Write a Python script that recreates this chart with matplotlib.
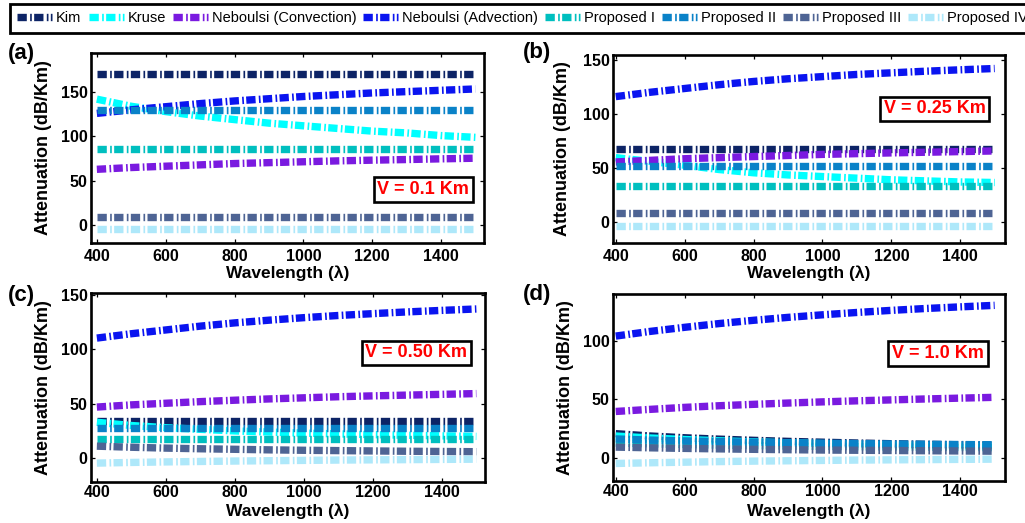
import numpy as np
import matplotlib
matplotlib.use("Agg")
import matplotlib.pyplot as plt

plt.rcParams['font.family'] = ['Liberation Sans', 'DejaVu Sans']
plt.rcParams['lines.scale_dashes'] = False

wavelength = [400, 500, 600, 700, 800, 900, 1000, 1100, 1200, 1300, 1400, 1500]

names = ["Kim", "Kruse", "Neboulsi (Convection)", "Neboulsi (Advection)",
         "Proposed I", "Proposed II", "Proposed III", "Proposed IV"]
colors = ["#0d2466", "#00ffff", "#7a1ae0", "#0a14f0",
          "#00bfbf", "#0a82c8", "#4e6494", "#aee8fa"]

# V = 0.1 km
kim_a = [170, 170, 170, 170, 170, 170, 170, 170, 170, 170, 170, 170]
kruse_a = [142, 134, 128, 123, 119, 115, 112, 109, 106, 104, 101, 99]
conv_a = [63, 65, 66.5, 68, 69.5, 70.5, 71.5, 72.5, 73.3, 74, 74.8, 75.5]
adv_a = [126, 130, 133.5, 137, 140, 142.5, 145, 147, 149, 150.5, 152, 153.5]
p1_a = [86, 86, 86, 86, 86, 86, 86, 86, 86, 86, 86, 86]
p2_a = [130, 130, 130, 130, 130, 130, 130, 130, 130, 130, 130, 130]
p3_a = [9.5, 9.5, 9.5, 9.5, 9.5, 9.5, 9.5, 9.5, 9.5, 9.5, 9.5, 9.5]
p4_a = [-4, -4, -4, -4, -4, -4, -4, -4, -4, -4, -4, -4]

# V = 0.25 km
kim_b = [68, 68, 68, 68, 68, 68, 68, 68, 68, 68, 68, 68]
kruse_b = [60, 56.5, 53, 49, 46, 44, 42.5, 41, 39.5, 38.5, 37.5, 37]
conv_b = [56, 57.5, 59, 60, 61, 62, 63, 63.7, 64.4, 65, 65.6, 66.2]
adv_b = [116.5, 120.5, 124, 127.5, 130.5, 133, 135, 137, 138.5, 140, 141.3, 142.5]
p1_b = [34, 34, 34, 34, 34, 34, 34, 34, 34, 34, 34, 34]
p2_b = [52, 52, 52, 52, 52, 52, 52, 52, 52, 52, 52, 52]
p3_b = [9, 9, 9, 9, 9, 9, 9, 9, 9, 9, 9, 9]
p4_b = [-3, -3, -3, -3, -3, -3, -3, -3, -3, -3, -3, -3]

# V = 0.50 km
kim_c = [34, 34, 34, 34, 34, 34, 34, 34, 34, 34, 34, 34]
kruse_c = [33, 30, 28, 26.5, 25, 24, 23, 22.3, 21.6, 21, 20.5, 20]
conv_c = [47, 49, 50.5, 52, 53.3, 54.5, 55.5, 56.5, 57.3, 58, 58.7, 59.4]
adv_c = [110.5, 114.5, 118, 121.5, 124.5, 127, 129.3, 131.3, 133, 134.6, 136, 137.3]
p1_c = [18, 18, 18, 18, 18, 18, 18, 18, 18, 18, 18, 18]
p2_c = [28, 28, 28, 28, 28, 28, 28, 28, 28, 28, 28, 28]
p3_c = [11, 10, 9.2, 8.6, 8.1, 7.6, 7.2, 6.9, 6.6, 6.3, 6.1, 5.9]
p4_c = [-4.6, -4, -3.5, -3.1, -2.7, -2.4, -2.1, -1.8, -1.6, -1.4, -1.2, -1.0]

# V = 1.0 km
kim_d = [20.5, 18.5, 17, 15.8, 14.8, 13.9, 13.2, 12.5, 11.9, 11.4, 11, 10.6]
kruse_d = [18.5, 16.8, 15.5, 14.4, 13.5, 12.7, 12, 11.4, 10.9, 10.4, 10, 9.6]
conv_d = [39.5, 41.3, 43, 44.4, 45.6, 46.7, 47.7, 48.6, 49.4, 50.2, 50.9, 51.6]
adv_d = [104, 108, 111.5, 114.7, 117.5, 120, 122.2, 124.2, 126, 127.6, 129, 130.3]
p1_d = [12.5, 11.8, 11.2, 10.7, 10.3, 9.9, 9.6, 9.3, 9.1, 8.9, 8.7, 8.5]
p2_d = [16, 15, 14.3, 13.7, 13.2, 12.7, 12.3, 12, 11.7, 11.4, 11.2, 11]
p3_d = [9, 8.4, 7.9, 7.5, 7.1, 6.8, 6.5, 6.3, 6.1, 5.9, 5.7, 5.5]
p4_d = [-5, -4.4, -3.9, -3.4, -3, -2.7, -2.4, -2.1, -1.9, -1.7, -1.5, -1.3]

panels = [
    # label, box text, axes rect (px), ylim, yticks, xlim, box pos, label pos, ylabel x, xlabel y, x pad, series
    ("(a)", "V = 0.1 Km", [91, 53, 484, 243], (-20, 194), [0, 50, 100, 150], (383, 1525),
     (0.845, 0.282), (8, 43), -0.098, -0.118, 4,
     [kim_a, kruse_a, conv_a, adv_a, p1_a, p2_a, p3_a, p4_a]),
    ("(b)", "V = 0.25 Km", [613, 55, 1005, 243], (-19, 155), [0, 50, 100, 150], (392, 1530),
     (0.820, 0.713), (523, 42), -0.108, -0.118, 4,
     [kim_b, kruse_b, conv_b, adv_b, p1_b, p2_b, p3_b, p4_b]),
    ("(c)", "V = 0.50 Km", [91, 293, 485, 482], (-22, 152), [0, 50, 100, 150], (383, 1525),
     (0.826, 0.683), (8, 285), -0.098, -0.111, 2,
     [kim_c, kruse_c, conv_c, adv_c, p1_c, p2_c, p3_c, p4_c]),
    ("(d)", "V = 1.0 Km", [613, 294, 1005, 481], (-20, 140), [0, 50, 100], (392, 1530),
     (0.829, 0.682), (523, 284), -0.100, -0.118, 2,
     [kim_d, kruse_d, conv_d, adv_d, p1_d, p2_d, p3_d, p4_d]),
]

W, H = 1025, 523
fig = plt.figure(figsize=(W / 100, H / 100), dpi=100)

dash = (6.7, 2.4, 1.2, 1.7)
handles = []
for label, vtext, rect, ylim, yticks, xlim, boxpos, labpos, ylx, xly, xpad, series in panels:
    x0, y0, x1, y1 = rect
    ax = fig.add_axes([x0 / W, 1 - y1 / H, (x1 - x0) / W, (y1 - y0) / H])
    lines = []
    for name, col, vals in zip(names, colors, series):
        ln, = ax.plot(wavelength, vals, color=col, lw=5.3, label=name,
                      linestyle=(0, dash), dash_capstyle='butt')
        lines.append(ln)
    handles = lines
    ax.set_xlim(*xlim)
    ax.set_ylim(*ylim)
    ax.set_xticks([400, 600, 800, 1000, 1200, 1400])
    ax.set_yticks(yticks)
    for s in ax.spines.values():
        s.set_linewidth(1.9)
    ax.tick_params(direction='in', top=True, right=True, length=3, width=0.9,
                   labelsize=11.5)
    ax.tick_params(axis='x', pad=xpad)
    ax.tick_params(axis='y', pad=2.5)
    for t in ax.get_xticklabels() + ax.get_yticklabels():
        t.set_fontweight('bold')
    ax.set_xlabel("Wavelength (λ)", fontsize=12.5, fontweight='bold', va='top')
    ax.xaxis.set_label_coords(0.5, xly)
    ax.set_ylabel("Attenuation (dB/Km)", fontsize=13, fontweight='bold')
    ax.yaxis.set_label_coords(ylx, 0.5)
    ax.text(boxpos[0], boxpos[1], vtext, transform=ax.transAxes, ha='center', va='center',
            color='#ff0000', fontsize=13, fontweight='bold',
            bbox=dict(boxstyle='square,pad=0.2', fc='white', ec='black', lw=1.9))
    fig.text(labpos[0] / W, 1 - labpos[1] / H, label, fontsize=16, fontweight='bold',
             ha='left', va='top')

leg = fig.legend(handles, names, loc='upper left', bbox_to_anchor=(10 / W, 1 - 4 / H),
                 ncol=8, fontsize=10.5, frameon=True, fancybox=False, framealpha=1,
                 edgecolor='black', handlelength=2.4, handletextpad=0.25,
                 columnspacing=0.5, borderpad=0.5, borderaxespad=0)
leg.get_frame().set_linewidth(2)

fig.savefig("out.png", dpi=100)
